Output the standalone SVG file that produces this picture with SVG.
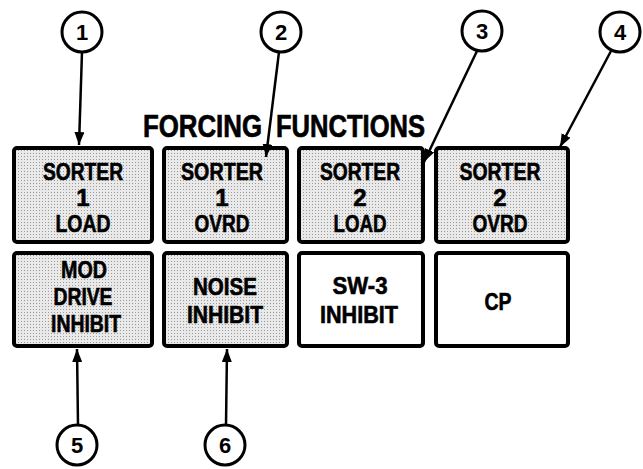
<svg xmlns="http://www.w3.org/2000/svg" width="643" height="469" viewBox="0 0 643 469">
<defs>
<pattern id="stip" width="3" height="3" patternUnits="userSpaceOnUse">
<rect width="3" height="3" fill="#e9e9e9"/>
<rect x="0" y="0" width="1" height="1" fill="#9a9a9a"/>
</pattern>
<marker id="ah" markerUnits="userSpaceOnUse" markerWidth="14" markerHeight="10" refX="13" refY="5" orient="auto">
<path d="M0,0 L13,5 L0,10 Z" fill="#000"/>
</marker>
<style>
.box{stroke:#000;stroke-width:4;}
.sh{fill:url(#stip);}
.wh{fill:#fff;}
.t{font-family:"Liberation Sans",Arial,sans-serif;font-weight:bold;font-size:24px;fill:#000;stroke:#000;stroke-width:0.6;text-anchor:middle;}
.c{fill:#fff;stroke:#000;stroke-width:3;}
.n{font-family:"Liberation Sans",Arial,sans-serif;font-weight:bold;font-size:22px;fill:#000;text-anchor:middle;}
.ln{stroke:#000;stroke-width:2.5;fill:none;marker-end:url(#ah);}
.title{font-family:"Liberation Sans",Arial,sans-serif;font-weight:bold;font-size:31px;fill:#000;stroke:#000;stroke-width:0.7;}
</style>
</defs>
<rect width="643" height="469" fill="#fff"/>

<text class="title" y="137"><tspan x="143" textLength="119" lengthAdjust="spacingAndGlyphs">FORCING</tspan> <tspan x="276" textLength="149" lengthAdjust="spacingAndGlyphs">FUNCTIONS</tspan></text>

<g id="box-sorter1-load">
<rect class="box sh" x="14" y="148" width="138" height="94" rx="3"/>
<text class="t" x="83" y="180" textLength="80" lengthAdjust="spacingAndGlyphs">SORTER</text>
<text class="t" x="83" y="206">1</text>
<text class="t" x="83" y="232" textLength="55" lengthAdjust="spacingAndGlyphs">LOAD</text>
</g>
<g id="box-sorter1-ovrd">
<rect class="box sh" x="164" y="148" width="123" height="94" rx="3"/>
<text class="t" x="222" y="180" textLength="82" lengthAdjust="spacingAndGlyphs">SORTER</text>
<text class="t" x="222" y="206">1</text>
<text class="t" x="222" y="232" textLength="55" lengthAdjust="spacingAndGlyphs">OVRD</text>
</g>
<g id="box-sorter2-load">
<rect class="box sh" x="299" y="148" width="124" height="94" rx="3"/>
<text class="t" x="360" y="180" textLength="80" lengthAdjust="spacingAndGlyphs">SORTER</text>
<text class="t" x="360" y="206">2</text>
<text class="t" x="360" y="232" textLength="53" lengthAdjust="spacingAndGlyphs">LOAD</text>
</g>
<g id="box-sorter2-ovrd">
<rect class="box sh" x="436" y="148" width="132" height="94" rx="3"/>
<text class="t" x="500" y="180" textLength="81" lengthAdjust="spacingAndGlyphs">SORTER</text>
<text class="t" x="500" y="206">2</text>
<text class="t" x="500" y="232" textLength="55" lengthAdjust="spacingAndGlyphs">OVRD</text>
</g>
<g id="box-mod-drive-inhibit">
<rect class="box sh" x="14" y="253" width="138" height="93" rx="3"/>
<text class="t" x="84" y="278" textLength="46" lengthAdjust="spacingAndGlyphs">MOD</text>
<text class="t" x="83" y="305" textLength="59" lengthAdjust="spacingAndGlyphs">DRIVE</text>
<text class="t" x="86" y="332" textLength="70" lengthAdjust="spacingAndGlyphs">INHIBIT</text>
</g>
<g id="box-noise-inhibit">
<rect class="box sh" x="164" y="253" width="123" height="93" rx="3"/>
<text class="t" x="225" y="295" textLength="64" lengthAdjust="spacingAndGlyphs">NOISE</text>
<text class="t" x="225" y="323" textLength="76" lengthAdjust="spacingAndGlyphs">INHIBIT</text>
</g>
<g id="box-sw3-inhibit">
<rect class="box wh" x="299" y="253" width="124" height="93" rx="3"/>
<text class="t" x="360" y="294" textLength="55" lengthAdjust="spacingAndGlyphs">SW-3</text>
<text class="t" x="359" y="323" textLength="78" lengthAdjust="spacingAndGlyphs">INHIBIT</text>
</g>
<g id="box-cp">
<rect class="box wh" x="436" y="253" width="132" height="93" rx="3"/>
<text class="t" x="498" y="310" textLength="27" lengthAdjust="spacingAndGlyphs">CP</text>
</g>

<g id="connectors">
<line class="ln" x1="82" y1="52" x2="79" y2="145"/>
<line class="ln" x1="279" y1="52" x2="266" y2="157"/>
<line class="ln" x1="477" y1="51" x2="424" y2="162"/>
<line class="ln" x1="611" y1="51" x2="560" y2="147"/>
<line class="ln" x1="78" y1="425" x2="77" y2="349"/>
<line class="ln" x1="226" y1="425" x2="227" y2="349"/>
</g>

<g id="callout-1"><circle class="c" cx="82" cy="32" r="20"/><text class="n" x="82" y="40">1</text></g>
<g id="callout-2"><circle class="c" cx="281" cy="32" r="20"/><text class="n" x="281" y="40">2</text></g>
<g id="callout-3"><circle class="c" cx="482" cy="31" r="20"/><text class="n" x="482" y="39">3</text></g>
<g id="callout-4"><circle class="c" cx="620" cy="32" r="20"/><text class="n" x="620" y="40">4</text></g>
<g id="callout-5"><circle class="c" cx="77" cy="445" r="20"/><text class="n" x="77" y="453">5</text></g>
<g id="callout-6"><circle class="c" cx="225" cy="445" r="20"/><text class="n" x="225" y="453">6</text></g>
</svg>
